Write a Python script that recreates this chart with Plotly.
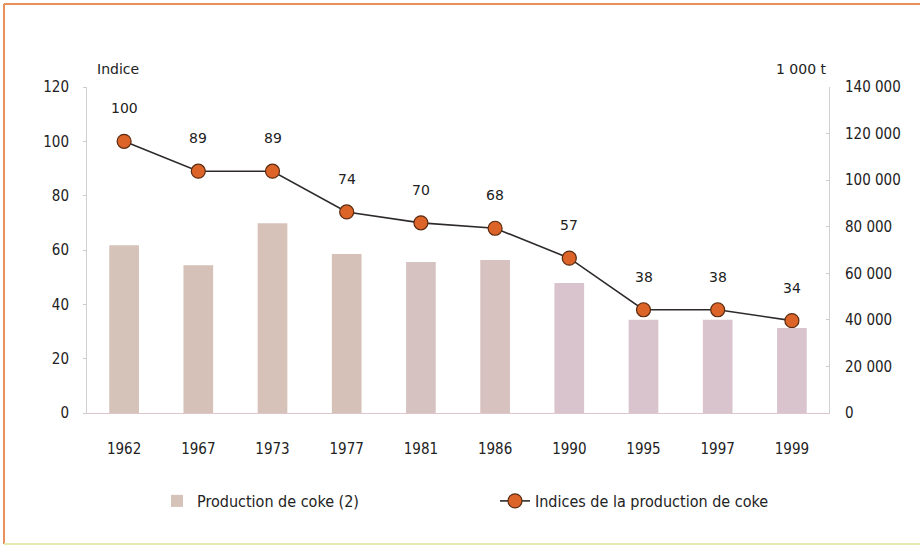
import plotly.graph_objects as go

# Years and series
years = ["1962", "1967", "1973", "1977", "1981", "1986", "1990", "1995", "1997", "1999"]
production_kt = [72000, 63500, 81500, 68300, 64800, 65700, 55800, 40000, 40000, 36500]
indices = [100, 89, 89, 74, 70, 68, 57, 38, 38, 34]

left_ticks = [0, 20, 40, 60, 80, 100, 120]
right_ticks = [0, 20000, 40000, 60000, 80000, 100000, 120000, 140000]
right_tick_text = ["0", "20 000", "40 000", "60 000", "80 000", "100 000", "120 000", "140 000"]

# Bar shading, warm beige drifting to a rose tint
bar_colors = ["#d5c2b8", "#d5c1b7", "#d6c2b9", "#d6c1b8", "#d7c2c2", "#d7c2c0",
              "#d9c3cc", "#d9c3cd", "#d9c3cd", "#d9c4ce"]

W, H = 920, 546
ML, MR, MT, MB = 87, 91, 87, 133
PW, PH = W - ML - MR, H - MT - MB

NARROW = "Liberation Sans Narrow, DejaVu Sans Condensed, sans-serif"
tick_font = dict(family=NARROW, size=15, color="#222222")


def px_to_paper_x(px):
    return (px - ML) / PW


def px_to_paper_y(py):
    return (H - MB - py) / PH


fig = go.Figure()

fig.add_trace(go.Bar(
    x=years, y=production_kt, yaxis="y2",
    name="Production de coke (2)",
    marker=dict(color=bar_colors, line=dict(width=0)),
    width=0.4,
    legend="legend",
))

fig.add_trace(go.Scatter(
    x=years, y=indices, yaxis="y",
    mode="lines+markers",
    name="Indices de la production de coke",
    line=dict(color="#2e2a2a", width=1.6),
    marker=dict(size=14, color="#dd6428", line=dict(color="#5a2a10", width=1.2)),
    legend="legend2",
))

# Value labels above each index point (category index on the x axis)
for i, v in enumerate(indices):
    fig.add_annotation(
        x=i, y=v, xref="x", yref="y", text=str(v), showarrow=False,
        yshift=33, font=dict(family="DejaVu Sans", size=14, color="#222222"),
    )

# Axis titles
fig.add_annotation(x=px_to_paper_x(95), y=px_to_paper_y(69), xref="paper", yref="paper",
                   text="Indice", showarrow=False, xanchor="left", yanchor="middle",
                   font=dict(family="DejaVu Sans", size=14, color="#222222"))
fig.add_annotation(x=px_to_paper_x(829), y=px_to_paper_y(69), xref="paper", yref="paper",
                   text="1 000 t", showarrow=False, xanchor="right", yanchor="middle",
                   font=dict(family="DejaVu Sans", size=14, color="#222222"))

# Frame around the figure
frame_col = "#e8905a"
fig.add_shape(type="line", xref="paper", yref="paper",
              x0=px_to_paper_x(4), x1=px_to_paper_x(920), y0=px_to_paper_y(4), y1=px_to_paper_y(4),
              line=dict(color=frame_col, width=2))
fig.add_shape(type="line", xref="paper", yref="paper",
              x0=px_to_paper_x(4), x1=px_to_paper_x(4), y0=px_to_paper_y(4), y1=px_to_paper_y(544),
              line=dict(color=frame_col, width=2))
fig.add_shape(type="line", xref="paper", yref="paper",
              x0=px_to_paper_x(4), x1=px_to_paper_x(920), y0=px_to_paper_y(544), y1=px_to_paper_y(544),
              line=dict(color="#e6eab0", width=2))

legend_common = dict(
    orientation="h", yanchor="middle", xanchor="left",
    font=dict(family=NARROW, size=16, color="#222222"),
    itemwidth=30, bgcolor="rgba(0,0,0,0)",
)

fig.update_layout(
    width=W, height=H,
    margin=dict(l=ML, r=MR, t=MT, b=MB),
    paper_bgcolor="white", plot_bgcolor="white",
    showlegend=True,
    legend=dict(x=px_to_paper_x(157), y=px_to_paper_y(501), **legend_common),
    legend2=dict(x=px_to_paper_x(495), y=px_to_paper_y(501), **legend_common),
    xaxis=dict(
        type="category", range=[-0.5, len(years) - 0.5],
        showgrid=False, showline=True, linecolor="#dcc8cc", linewidth=1,
        ticks="", tickfont=tick_font, ticklabelstandoff=22,
    ),
    yaxis=dict(
        range=[0, 120], tickvals=left_ticks, showgrid=False, zeroline=False,
        showline=True, linecolor="#d0d0d0", linewidth=1,
        ticks="outside", ticklen=3, tickcolor="#cccccc",
        tickfont=tick_font, ticklabelstandoff=11,
    ),
    yaxis2=dict(
        range=[0, 140000], tickvals=right_ticks, ticktext=right_tick_text,
        overlaying="y", side="right", showgrid=False, zeroline=False,
        showline=True, linecolor="#d0d0d0", linewidth=1,
        ticks="inside", ticklen=3, tickcolor="#cccccc",
        tickfont=tick_font, ticklabelstandoff=12,
    ),
)

fig.write_html("out.html")
